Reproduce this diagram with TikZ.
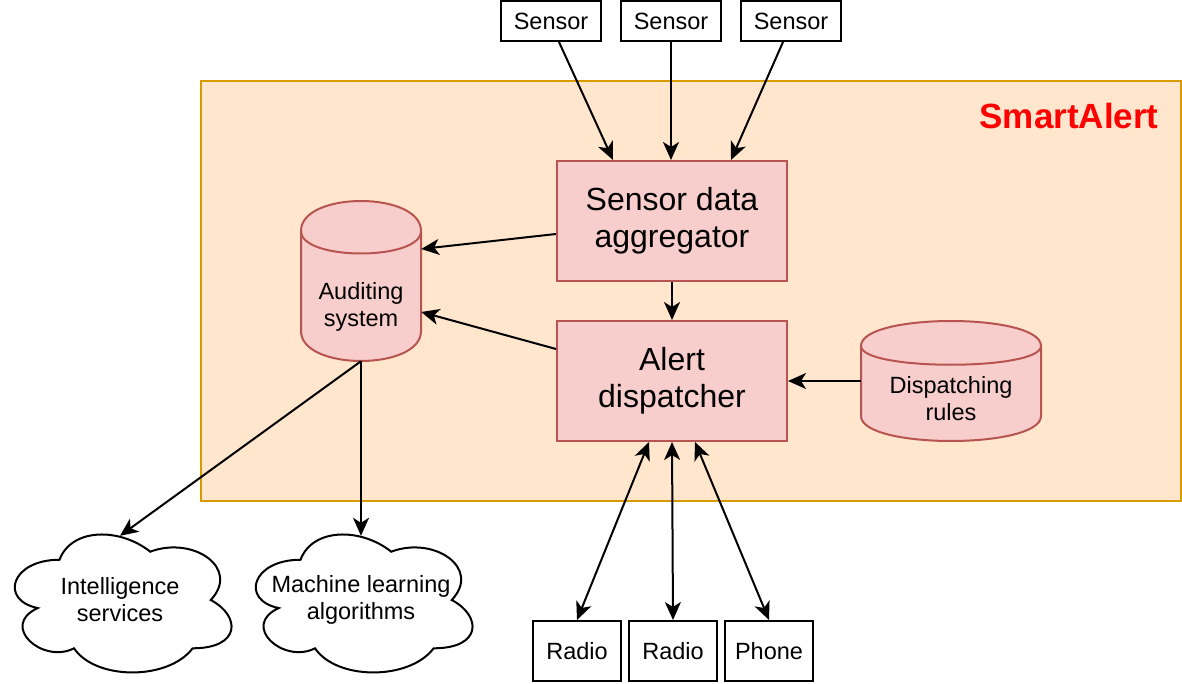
\documentclass[tikz,border=0pt]{standalone}
\usepackage{fontspec}
\setmainfont{Liberation Sans}
\usetikzlibrary{arrows.meta}
\definecolor{contfill}{HTML}{FFE6CC}
\definecolor{contline}{HTML}{D79B00}
\definecolor{pinkfill}{HTML}{F8CECC}
\definecolor{pinkline}{HTML}{B85450}
\definecolor{alertred}{HTML}{FF0000}
\newcommand{\mycloud}[1]{%
\begin{scope}[shift={(#1.center)}, x=242pt, y=-161pt, shift={(-0.5,-0.5)}]
\draw[cloudline] (0.25,0.25) .. controls (0.05,0.25) and (0,0.5) .. (0.16,0.55)
 .. controls (0,0.66) and (0.18,0.9) .. (0.31,0.8)
 .. controls (0.4,1) and (0.7,1) .. (0.8,0.8)
 .. controls (1,0.8) and (1,0.6) .. (0.875,0.5)
 .. controls (1,0.3) and (0.8,0.1) .. (0.625,0.2)
 .. controls (0.5,0.05) and (0.3,0.05) .. (0.25,0.25) -- cycle;
\end{scope}}
\begin{document}
\begin{tikzpicture}[x=1pt,y=-1pt,
 smallfont/.style={font=\fontsize{23.5}{27}\selectfont},
 bigfont/.style={font=\fontsize{32}{37}\selectfont},
 plainbox/.style={draw=black, line width=2pt, fill=white, inner sep=0pt, smallfont},
 pinkbox/.style={draw=pinkline, fill=pinkfill, line width=2pt, minimum width=230pt, minimum height=120pt, inner sep=0pt, align=center, bigfont},
 txt/.style={inner sep=0pt, align=center, smallfont},
 arr/.style={line width=2pt, -{Stealth[length=18pt,width=16pt,inset=5pt]}},
 darr/.style={line width=2pt, {Stealth[length=18pt,width=16pt,inset=5pt]}-{Stealth[length=18pt,width=16pt,inset=5pt]}},
 cylshape/.style={draw=pinkline, fill=pinkfill, line width=2pt},
 cloudline/.style={draw=black, line width=2pt}]
\useasboundingbox (0,0) rectangle (1182,684);
% container
\node[draw=contline, fill=contfill, line width=2pt, minimum width=980pt, minimum height=420pt, inner sep=0pt] (container) at (691,291) {};
\node[inner sep=0pt, text=alertred, font=\fontsize{35}{42}\selectfont\bfseries] (title) at (1069,116) {SmartAlert};
% sensors
\node[plainbox, minimum width=100pt, minimum height=40pt] (s1) at (551,21) {Sensor};
\node[plainbox, minimum width=100pt, minimum height=40pt] (s2) at (671,21) {Sensor};
\node[plainbox, minimum width=100pt, minimum height=40pt] (s3) at (791,21) {Sensor};
% main boxes
\node[pinkbox] (agg) at (672,221) {Sensor data\\aggregator};
\node[pinkbox] (disp) at (672,381) {Alert\\dispatcher};
% auditing cylinder
\path[cylshape, shift={(301,201)}] (0,30) .. controls (0,-10) and (120,-10) .. (120,30) -- (120,130) .. controls (120,170) and (0,170) .. (0,130) -- cycle;
\draw[draw=pinkline, line width=2pt, shift={(301,201)}] (0,30) .. controls (0,60) and (120,60) .. (120,30);
\node[minimum width=120pt, minimum height=160pt, inner sep=0pt] (aud) at (361,281) {};
\node[txt] (audtext) at (361,307) {Auditing\\system};
% dispatching rules cylinder
\path[cylshape, shift={(861,321)}] (0,25) .. controls (0,-8.33) and (180,-8.33) .. (180,25) -- (180,95) .. controls (180,128.33) and (0,128.33) .. (0,95) -- cycle;
\draw[draw=pinkline, line width=2pt, shift={(861,321)}] (0,25) .. controls (0,50) and (180,50) .. (180,25);
\node[minimum width=180pt, minimum height=120pt, inner sep=0pt] (rules) at (951,381) {};
\node[txt] (rulestext) at (951,399) {Dispatching\\rules};
% clouds
\node[txt, minimum width=200pt, minimum height=128pt] (intel) at (120,600) {Intelligence\\services};
\node[txt, minimum width=200pt, minimum height=128pt] (ml) at (361,600) {Machine learning\\algorithms};
\mycloud{intel}
\mycloud{ml}
% outputs
\node[plainbox, minimum width=88pt, minimum height=60pt] (r1) at (577,651) {Radio};
\node[plainbox, minimum width=88pt, minimum height=60pt] (r2) at (673,651) {Radio};
\node[plainbox, minimum width=88pt, minimum height=60pt] (ph) at (769,651) {Phone};
% connectors
\draw[arr] ([xshift=8pt]s1.south) -- ([xshift=-59pt]agg.north);
\draw[arr] (s2.south) -- (s2.south |- agg.north);
\draw[arr] ([xshift=-8pt]s3.south) -- ([xshift=59pt]agg.north);
\draw[arr] ([yshift=-13pt]agg.west) -- ([yshift=32pt]aud.east);
\draw[arr] (agg.south) -- (disp.north);
\draw[arr] ([yshift=32pt]disp.west) -- ([yshift=-31pt]aud.east);
\draw[arr] (rules.west) -- (disp.east);
\draw[arr] (aud.south) -- (intel.north);
\draw[arr] (aud.south) -- (ml.north);
\draw[darr] ([xshift=-23pt]disp.south) -- (r1.north);
\draw[darr] (disp.south) -- (r2.north);
\draw[darr] ([xshift=23pt]disp.south) -- (ph.north);
\end{tikzpicture}
\end{document}
